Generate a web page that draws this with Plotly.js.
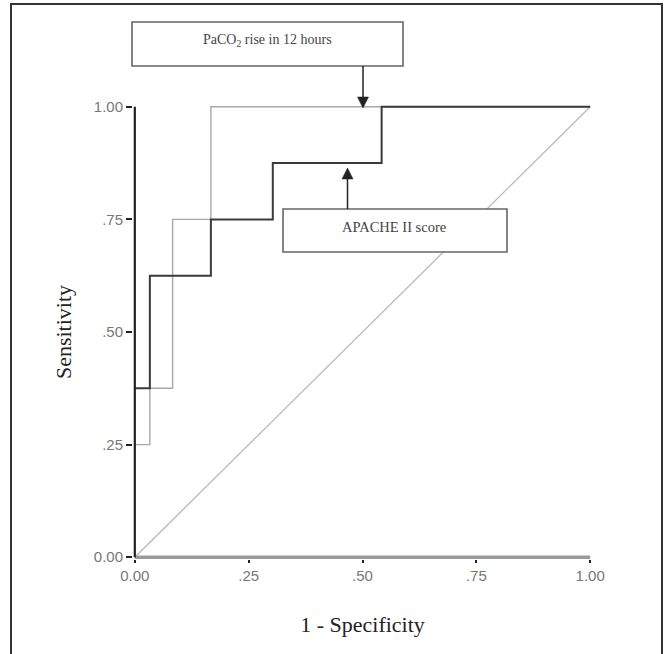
<!DOCTYPE html>
<html>
<head>
<meta charset="utf-8">
<script src="https://cdn.plot.ly/plotly-3.0.1.min.js"></script>
<style>html,body{margin:0;padding:0;background:#fff;}#chart{width:668px;height:654px;}</style>
</head>
<body>
<div id="chart"></div>
<script>
// ROC curves (step points, drawn with 'hv' line shape)
var paco2X = [0, 0.033, 0.083, 0.167, 1];
var paco2Y = [0.25, 0.375, 0.75, 1, 1];
var apacheX = [0, 0.033, 0.167, 0.303, 0.542, 1];
var apacheY = [0.375, 0.625, 0.75, 0.875, 1, 1];
var refX = [0, 1];
var refY = [0, 1];
var tickVals = [0, 0.25, 0.5, 0.75, 1];
var tickText = ['0.00', '.25', '.50', '.75', '1.00'];
var paco2Label = 'PaCO<sub>2</sub> rise in 12 hours';
var apacheLabel = 'APACHE II score';
var xTitle = '1 - Specificity';
var yTitle = 'Sensitivity';

var traces = [
  {x: refX, y: refY, mode: 'lines', line: {color: '#b8b8b8', width: 1.3}, hoverinfo: 'skip'},
  {x: refX, y: [0, 0], mode: 'lines', line: {color: '#9a9a9a', width: 3.5}, hoverinfo: 'skip'},
  {x: paco2X, y: paco2Y, mode: 'lines', line: {color: '#a8a8a8', width: 1.4, shape: 'hv'}, name: paco2Label},
  {x: apacheX, y: apacheY, mode: 'lines', line: {color: '#3a3a3a', width: 2, shape: 'hv'}, name: apacheLabel},
  {x: [0, 0], y: refX, mode: 'lines', line: {color: '#222', width: 2.2}, hoverinfo: 'skip'}
];

var L = 133, R = 76, T = 105, B = 95, W = 668, H = 654;
function px(p) { return (p - L) / (W - L - R); }
function py(p) { return (H - B - p) / (H - T - B); }
function arrowHead(x, yBase, yTip, half) {
  return 'M' + px(x - half) + ',' + py(yBase) + ' L' + px(x + half) + ',' + py(yBase) +
         ' L' + px(x) + ',' + py(yTip) + ' Z';
}

var layout = {
  width: W, height: H,
  margin: {l: L, r: R, t: T, b: B},
  showlegend: false,
  paper_bgcolor: '#fff', plot_bgcolor: '#fff',
  xaxis: {
    range: [-0.004, 1.004], showgrid: false, zeroline: false, showline: false,
    tickmode: 'array', tickvals: tickVals, ticktext: tickText,
    ticks: 'outside', ticklen: 3, tickwidth: 2, tickcolor: '#222',
    tickfont: {family: 'Liberation Sans, Arial, sans-serif', size: 15, color: '#777'},
    title: {text: xTitle, standoff: 33, font: {family: 'Liberation Serif, Times New Roman, serif', size: 22, color: '#222'}}
  },
  yaxis: {
    range: [-0.004, 1.004], showgrid: false, zeroline: false, showline: false,
    tickmode: 'array', tickvals: tickVals, ticktext: tickText,
    ticks: 'outside', ticklen: 6, tickwidth: 2, tickcolor: '#222',
    tickfont: {family: 'Liberation Sans, Arial, sans-serif', size: 15, color: '#777'},
    title: {text: yTitle, standoff: 16, font: {family: 'Liberation Serif, Times New Roman, serif', size: 22, color: '#222'}}
  },
  shapes: [
    {type: 'rect', xref: 'paper', yref: 'paper', x0: px(11), x1: px(662), y0: py(664), y1: py(4),
     line: {color: '#333', width: 2}, fillcolor: 'rgba(0,0,0,0)', layer: 'below'},
    {type: 'rect', xref: 'paper', yref: 'paper', x0: px(132), x1: px(403), y0: py(66), y1: py(22),
     line: {color: '#666', width: 1.6}, fillcolor: '#fff', layer: 'above'},
    {type: 'rect', xref: 'paper', yref: 'paper', x0: px(283), x1: px(507), y0: py(252), y1: py(209),
     line: {color: '#666', width: 1.6}, fillcolor: '#fff', layer: 'above'},
    {type: 'line', xref: 'paper', yref: 'paper', x0: px(363), x1: px(363), y0: py(66), y1: py(99),
     line: {color: '#222', width: 1.5}},
    {type: 'path', xref: 'paper', yref: 'paper', path: arrowHead(363, 97, 108, 5.5),
     line: {color: '#222', width: 0.5}, fillcolor: '#222'},
    {type: 'line', xref: 'paper', yref: 'paper', x0: px(347.5), x1: px(347.5), y0: py(209), y1: py(177),
     line: {color: '#222', width: 1.5}},
    {type: 'path', xref: 'paper', yref: 'paper', path: arrowHead(347.5, 179, 168, 5.5),
     line: {color: '#222', width: 0.5}, fillcolor: '#222'}
  ],
  annotations: [
    {xref: 'paper', yref: 'paper', x: px(267), y: py(40), xanchor: 'center', yanchor: 'middle',
     text: paco2Label, showarrow: false,
     font: {family: 'Liberation Serif, Times New Roman, serif', size: 14, color: '#444'}},
    {xref: 'paper', yref: 'paper', x: px(394), y: py(227), xanchor: 'center', yanchor: 'middle',
     text: apacheLabel, showarrow: false,
     font: {family: 'Liberation Serif, Times New Roman, serif', size: 14.5, color: '#444'}}
  ]
};

Plotly.newPlot('chart', traces, layout, {displayModeBar: false, staticPlot: true});
</script>
</body>
</html>
